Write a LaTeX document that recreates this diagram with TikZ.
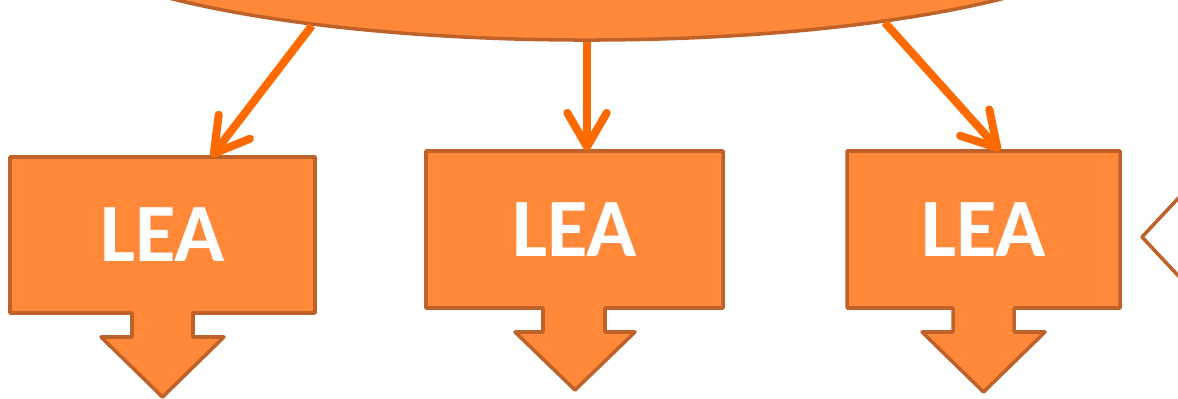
\documentclass[tikz,border=0pt]{standalone}
\usepackage{fontspec}
\setsansfont{Carlito}
\usetikzlibrary{calc}
\usetikzlibrary{arrows.meta}
\usetikzlibrary{shapes.geometric}
\definecolor{leafill}{HTML}{FF8939}
\definecolor{leaedge}{HTML}{BF622A}
\definecolor{linkorange}{HTML}{FF6A00}

\begin{document}
\begin{tikzpicture}[x=0.025cm, y=-0.025cm]
      \tikzset{
         hubshape/.style = {
            ellipse, draw=leaedge, fill=leafill,
            line width=2.5pt, inner sep=0pt,
            minimum width=27.5cm, minimum height=6cm
         },
         leashape/.style = {
            draw=leaedge, fill=leafill,
            line width=2.5pt, line join=round
         },
         leatext/.style = {
            rectangle, inner sep=0pt, text=white,
            font=\sffamily\bfseries\fontsize{59}{60}\selectfont
         },
         link/.style = {
            linkorange, line width=5.7pt,
            -{Straight Barb[length=24pt,width=28pt,round]}
         }
      }
      \useasboundingbox (0,0) rectangle (1178,399);
      \clip (0,0) rectangle (1178,399);
      \node[hubshape] (hub) at (587,-80) {} ;
      % boxes with their down pointers
      \draw[leashape] (10,157) -- (315,157) -- (315,313) -- (193,313) -- (193,337) -- (224,337)
         -- (162.5,397) -- (101,337) -- (132,337) -- (132,313) -- (10,313) -- cycle ;
      \draw[leashape] (426,151) -- (723,151) -- (723,308) -- (605,308) -- (605,332) -- (635,332)
         -- (575,390) -- (515,332) -- (543,332) -- (543,308) -- (426,308) -- cycle ;
      \draw[leashape] (847,151) -- (1120,151) -- (1120,308) -- (1014,308) -- (1014,332) -- (1045,332)
         -- (983.5,392) -- (922,332) -- (953,332) -- (953,308) -- (847,308) -- cycle ;
      \draw[leashape, fill=white] (1200,175) -- (1142,237) -- (1200,299) ;
      \node[leatext, minimum width=7.625cm, minimum height=3.9cm] (lea1) at (162.5,235) {LEA} ;
      \node[leatext, minimum width=7.425cm, minimum height=3.925cm] (lea2) at (574.5,229.5) {LEA} ;
      \node[leatext, minimum width=6.825cm, minimum height=3.925cm] (lea3) at (983.5,229.5) {LEA} ;
      \draw[link] (hub.201) -- ($(lea1.north west)!0.66!(lea1.north east)$) ;
      \draw[link] (hub.south) -- (hub.south |- lea2.north) ;
      \draw[link] (hub.341.6) -- ($(lea3.north west)!0.56!(lea3.north east)$) ;
    \end{tikzpicture}
\end{document}
